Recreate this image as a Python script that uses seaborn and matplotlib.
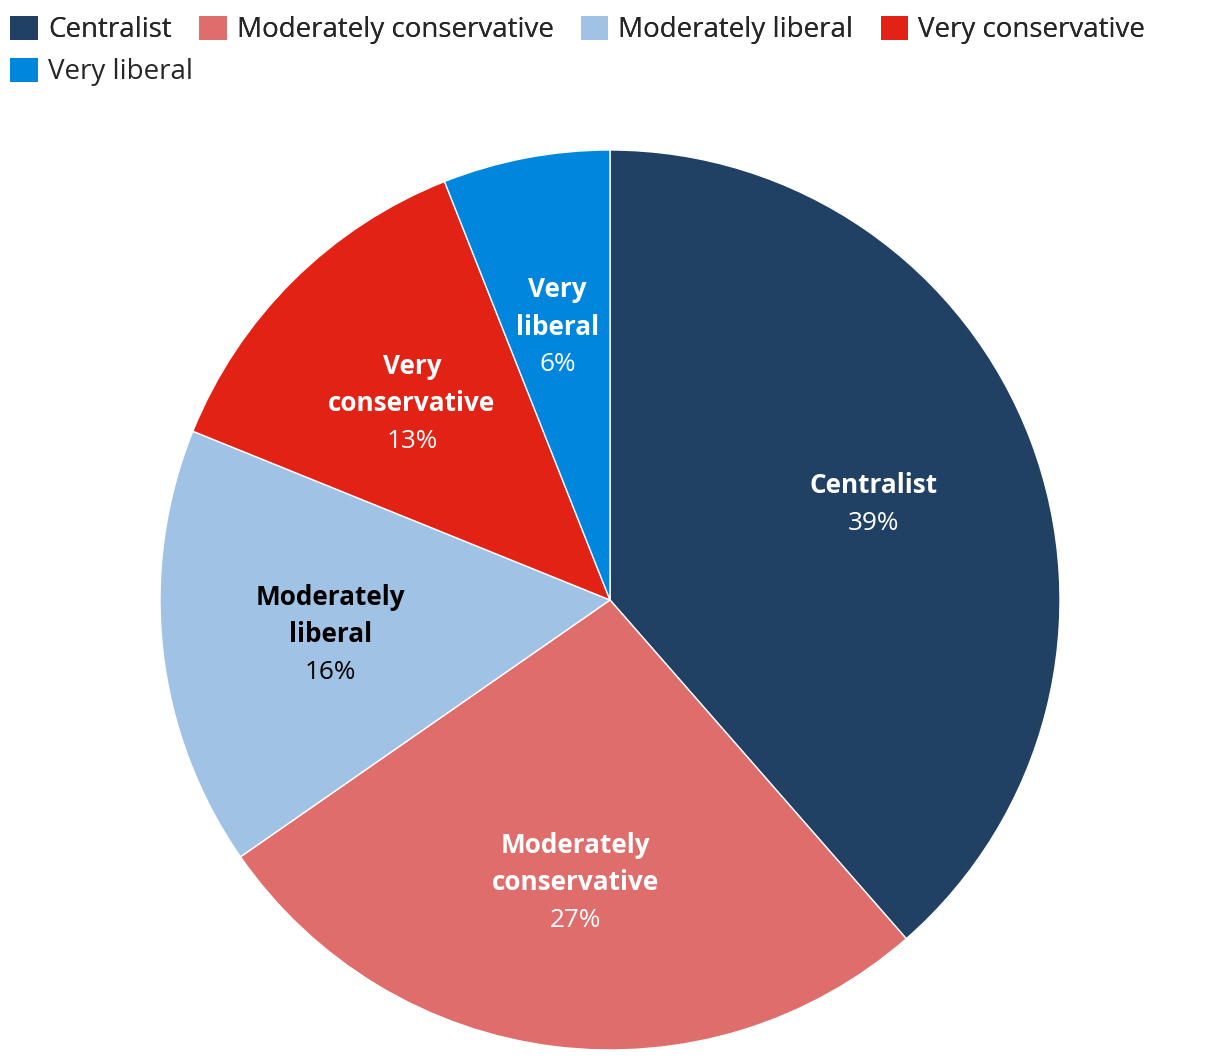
import numpy as np
import matplotlib
matplotlib.use("Agg")
import matplotlib.pyplot as plt
import seaborn as sns
from matplotlib.patches import Patch

categories = ["Centralist", "Moderately conservative", "Moderately liberal", "Very conservative", "Very liberal"]
label_lines = [["Centralist"], ["Moderately", "conservative"], ["Moderately", "liberal"], ["Very", "conservative"], ["Very", "liberal"]]
values = [38.6, 26.8, 15.8, 12.9, 6.0]
pct_labels = ["39%", "27%", "16%", "13%", "6%"]
colors = ["#204064", "#df6d6c", "#a0c2e4", "#e32216", "#0086dc"]
text_colors = ["white", "white", "black", "white", "white"]

sns.set_theme(style="white")
plt.rcParams['font.family'] = ['Open Sans', 'DejaVu Sans']

W, H = 1220, 1060
fig = plt.figure(figsize=(W / 100, H / 100), dpi=100)
cx, cy, r = 610, 600, 450
ax = fig.add_axes([(cx - r) / W, (H - cy - r) / H, 2 * r / W, 2 * r / H])
wedges, _ = ax.pie(values, colors=colors, startangle=90, counterclock=False,
                   radius=1.0, wedgeprops=dict(edgecolor="white", linewidth=1.0))
ax.set_xlim(-1, 1)
ax.set_ylim(-1, 1)
ax.set_aspect("equal")
ax.axis("off")

ld = 0.625
fs = 18.8
line_px = 37.5
for w, lines, pct, tc in zip(wedges, label_lines, pct_labels, text_colors):
    ang = np.deg2rad((w.theta1 + w.theta2) / 2)
    x, y = ld * np.cos(ang), ld * np.sin(ang)
    all_lines = lines + [pct]
    n = len(all_lines)
    for i, t in enumerate(all_lines):
        off = ((n - 1) / 2 - i) * line_px * 0.72 - 2.5
        ax.annotate(t, (x, y), xytext=(0, off), textcoords="offset points",
                    ha="center", va="center", fontsize=fs, color=tc,
                    fontweight="bold" if i < n - 1 else "normal")

# legend: flow layout, first four on row 1, last on row 2
leg_kw = dict(frameon=False, fontsize=20, handlelength=1.0, handleheight=1.0,
              handletextpad=0.36, columnspacing=0.98, borderaxespad=0.0,
              borderpad=0.0, loc="center left")
row1 = [0, 1, 2, 3]
row2 = [4]
leg1 = fig.legend([Patch(facecolor=colors[i], edgecolor="none") for i in row1],
                  [categories[i] for i in row1], ncol=4,
                  bbox_to_anchor=(10 / W, 1 - 30 / H), **leg_kw)
fig.add_artist(leg1)
leg2 = fig.legend([Patch(facecolor=colors[i], edgecolor="none") for i in row2],
                  [categories[i] for i in row2], ncol=1,
                  bbox_to_anchor=(10 / W, 1 - 72 / H), **leg_kw)

fig.savefig("out.png", dpi=100, facecolor="white")
